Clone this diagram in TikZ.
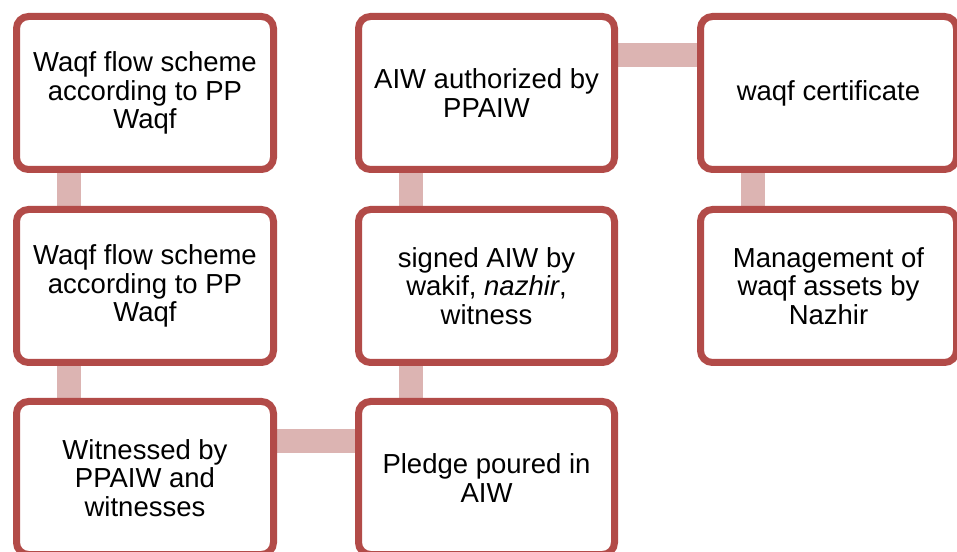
\documentclass[tikz,border=0pt]{standalone}
\usepackage{fontspec}
\setmainfont{Liberation Sans}
\usetikzlibrary{backgrounds}
\definecolor{boxred}{RGB}{178,75,72}
\definecolor{connpink}{RGB}{220,180,178}
\tikzset{
  flowbox/.style={draw=boxred, line width=7pt, fill=white, rounded corners=12pt,
    minimum width=257pt, minimum height=153pt, inner sep=0pt, align=center,
    font=\fontsize{27.5}{28.5}\selectfont},
  conn/.style={draw=connpink, line width=24pt}
}
\begin{document}
\begin{tikzpicture}[x=1pt,y=1pt]
\useasboundingbox (0,0) rectangle (957,551);
\clip (0,0) rectangle (957,551);
\node[flowbox] (b1) at (145,458) {Waqf flow scheme\\according to PP\\Waqf};
\node[flowbox] (b2) at (145,265) {Waqf flow scheme\\according to PP\\Waqf};
\node[flowbox] (b3) at (145,73) {Witnessed by\\PPAIW and\\witnesses};
\node[flowbox, minimum width=256pt] (b4) at (486.5,73) {Pledge poured in\\AIW};
\node[flowbox, minimum width=256pt] (b5) at (486.5,265) {signed AIW by\\wakif, \textit{nazhir},\\witness};
\node[flowbox, minimum width=256pt] (b6) at (486.5,458) {AIW authorized by\\PPAIW};
\node[flowbox, minimum width=256pt] (b7) at (828.5,458) {waqf certificate};
\node[flowbox, minimum width=256pt] (b8) at (828.5,265) {Management of\\waqf assets by\\Nazhir};
\begin{scope}[on background layer]
\draw[conn] ([xshift=-76pt]b1.south) -- ([xshift=-76pt]b2.north);
\draw[conn] ([xshift=-76pt]b2.south) -- ([xshift=-76pt]b3.north);
\draw[conn] ([yshift=37pt]b3.east) -- ([yshift=37pt]b4.west);
\draw[conn] ([xshift=-76pt]b4.north) -- ([xshift=-76pt]b5.south);
\draw[conn] ([xshift=-76pt]b5.north) -- ([xshift=-76pt]b6.south);
\draw[conn] ([yshift=38pt]b6.east) -- ([yshift=38pt]b7.west);
\draw[conn] ([xshift=-75.5pt]b7.south) -- ([xshift=-75.5pt]b8.north);
\end{scope}
\end{tikzpicture}
\end{document}
